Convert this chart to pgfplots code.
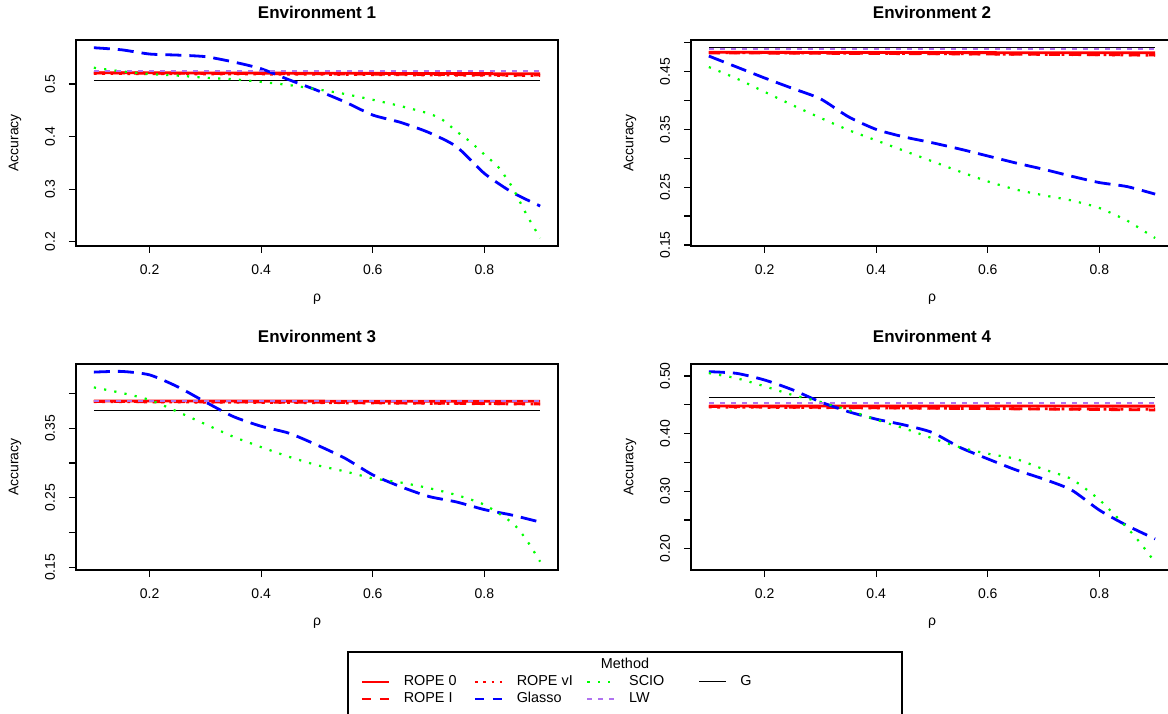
\documentclass[border=0pt]{standalone}
\usepackage{fontspec}
\setmainfont{Liberation Sans}
\usepackage{pgfplots}
\pgfplotsset{compat=1.18}

\definecolor{ropeRed}{HTML}{FF0000}
\definecolor{glBlue}{HTML}{0000FF}
\definecolor{scGreen}{HTML}{00FF00}
\definecolor{lwPurple}{HTML}{B072F0}

% line styles of the seven methods
\tikzset{
  rope0/.style={ropeRed, line width=1.4pt},
  ropeI/.style={ropeRed, line width=1.4pt, dash pattern=on 5.5pt off 4.5pt},
  ropevI/.style={ropeRed, line width=1.4pt, dash pattern=on 1.4pt off 2.8pt},
  glasso/.style={glBlue, line width=1.4pt, dash pattern=on 8pt off 4pt},
  scio/.style={scGreen, line width=1.1pt, dash pattern=on 1.1pt off 4.1pt},
  lw/.style={lwPurple, line width=1pt, dash pattern=on 2.5pt off 3pt},
  gline/.style={black, line width=0.5pt},
}

\pgfplotsset{
  envpanel/.style={
    scale only axis, width=241pt, height=103pt,
    anchor=south west,
    xmin=0.068, xmax=0.932,
    xtick={0.2,0.4,0.6,0.8},
    xticklabels={0.2,0.4,0.6,0.8},
    tick align=outside, tick pos=left,
    major tick length=3.5pt,
    axis line style={line width=0.6pt},
    every tick/.style={black, line width=0.6pt},
    tick label style={font=\fontsize{7}{8}\selectfont},
    xticklabel style={yshift=-2.5pt},
    yticklabel style={rotate=90, anchor=south, xshift=0pt},
    yticklabel shift=3.5pt,
    xlabel={ρ}, ylabel={Accuracy},
    every axis x label/.style={at={(axis description cs:0.5,-0.2573)}, anchor=center,
      font=\fontsize{7}{8}\selectfont},
    every axis y label/.style={at={(axis description cs:-0.1266,0.5)}, rotate=90,
      anchor=center, font=\fontsize{7}{8}\selectfont},
    every axis title/.style={at={(axis description cs:0.5,1.136)}, anchor=center,
      font=\bfseries\fontsize{8.5}{10}\selectfont},
  },
}

\begin{document}
\begin{tikzpicture}

% ---------- Environment 1 ----------
\begin{axis}[envpanel, at={(38pt,233.5pt)}, title={Environment 1},
  ymin=0.192, ymax=0.5837,
  ytick={0.2,0.3,0.4,0.5}, yticklabels={0.2,0.3,0.4,0.5}]
\addplot[gline] coordinates {(0.1,0.5063) (0.9,0.5063)};
\addplot[rope0] coordinates {(0.1,0.5215) (0.5,0.5205) (0.9,0.5195)};
\addplot[ropeI] coordinates {(0.1,0.5210) (0.5,0.5195) (0.9,0.5170)};
\addplot[ropevI] coordinates {(0.1,0.5200) (0.5,0.5185) (0.9,0.5160)};
\addplot[glasso, smooth, tension=0.4] coordinates {
  (0.10,0.569) (0.15,0.565) (0.20,0.557) (0.25,0.555) (0.30,0.552) (0.35,0.542)
  (0.40,0.529) (0.45,0.508) (0.50,0.488) (0.55,0.466) (0.60,0.441) (0.65,0.427)
  (0.70,0.408) (0.75,0.381) (0.80,0.330) (0.85,0.294) (0.90,0.268)};
\addplot[scio, smooth, tension=0.4] coordinates {
  (0.10,0.531) (0.15,0.524) (0.20,0.519) (0.25,0.516) (0.30,0.512) (0.35,0.509)
  (0.40,0.504) (0.45,0.498) (0.50,0.490) (0.55,0.481) (0.60,0.470) (0.65,0.458)
  (0.70,0.444) (0.725,0.432) (0.75,0.410) (0.775,0.390) (0.80,0.366) (0.825,0.342)
  (0.85,0.304) (0.875,0.253) (0.90,0.207)};
\addplot[lw] coordinates {(0.1,0.5241) (0.9,0.5241)};
\end{axis}

% ---------- Environment 2 ----------
\begin{axis}[envpanel, at={(345.5pt,233.5pt)}, title={Environment 2},
  ymin=0.1482, ymax=0.5048,
  ytick={0.15,0.20,0.25,0.30,0.35,0.40,0.45,0.50},
  yticklabels={0.15,,0.25,,0.35,,0.45,}]
\addplot[gline] coordinates {(0.1,0.4922) (0.9,0.4922)};
\addplot[rope0] coordinates {(0.1,0.4835) (0.5,0.4830) (0.9,0.4826)};
\addplot[ropeI] coordinates {(0.1,0.4825) (0.5,0.4810) (0.9,0.4788)};
\addplot[ropevI] coordinates {(0.1,0.4830) (0.5,0.4812) (0.9,0.4785)};
\addplot[glasso, smooth, tension=0.4] coordinates {
  (0.10,0.477) (0.15,0.458) (0.20,0.439) (0.25,0.421) (0.30,0.403) (0.35,0.372)
  (0.40,0.350) (0.45,0.337) (0.50,0.327) (0.55,0.316) (0.60,0.304) (0.65,0.292)
  (0.70,0.281) (0.75,0.269) (0.80,0.258) (0.85,0.251) (0.90,0.238)};
\addplot[scio, smooth, tension=0.4] coordinates {
  (0.10,0.458) (0.15,0.438) (0.20,0.415) (0.25,0.392) (0.30,0.370) (0.35,0.349)
  (0.40,0.331) (0.45,0.313) (0.50,0.295) (0.55,0.277) (0.60,0.260) (0.65,0.246)
  (0.70,0.236) (0.75,0.227) (0.80,0.214) (0.85,0.192) (0.875,0.177) (0.90,0.162)};
\addplot[lw] coordinates {(0.1,0.4896) (0.9,0.4896)};
\end{axis}

% ---------- Environment 3 ----------
\begin{axis}[envpanel, at={(38pt,71.5pt)}, title={Environment 3},
  ymin=0.146, ymax=0.4427,
  ytick={0.15,0.20,0.25,0.30,0.35,0.40},
  yticklabels={0.15,,0.25,,0.35,}]
\addplot[gline] coordinates {(0.1,0.3754) (0.9,0.3754)};
\addplot[rope0] coordinates {(0.1,0.3894) (0.5,0.3892) (0.9,0.3890)};
\addplot[ropeI] coordinates {(0.1,0.3888) (0.5,0.3875) (0.9,0.3852)};
\addplot[ropevI] coordinates {(0.1,0.3885) (0.5,0.3870) (0.9,0.3850)};
\addplot[glasso, smooth, tension=0.4] coordinates {
  (0.10,0.431) (0.15,0.432) (0.20,0.427) (0.25,0.410) (0.30,0.388) (0.35,0.367)
  (0.40,0.353) (0.45,0.343) (0.50,0.326) (0.55,0.307) (0.60,0.283) (0.65,0.266)
  (0.70,0.252) (0.75,0.244) (0.80,0.233) (0.85,0.225) (0.90,0.215)};
\addplot[scio, smooth, tension=0.4] coordinates {
  (0.10,0.409) (0.15,0.401) (0.20,0.391) (0.25,0.374) (0.30,0.356) (0.35,0.338)
  (0.40,0.323) (0.45,0.309) (0.50,0.297) (0.55,0.288) (0.60,0.278) (0.65,0.272)
  (0.70,0.264) (0.75,0.254) (0.80,0.240) (0.85,0.214) (0.875,0.190) (0.90,0.158)};
\addplot[lw] coordinates {(0.1,0.3896) (0.9,0.3896)};
\end{axis}

% ---------- Environment 4 ----------
\begin{axis}[envpanel, at={(345.5pt,71.5pt)}, title={Environment 4},
  ymin=0.163, ymax=0.5208,
  ytick={0.20,0.25,0.30,0.35,0.40,0.45,0.50},
  yticklabels={0.20,,0.30,,0.40,,0.50}]
\addplot[gline] coordinates {(0.1,0.4624) (0.9,0.4624)};
\addplot[rope0] coordinates {(0.1,0.4480) (0.5,0.4478) (0.9,0.4476)};
\addplot[ropeI] coordinates {(0.1,0.4470) (0.5,0.4440) (0.9,0.4410)};
\addplot[ropevI] coordinates {(0.1,0.4460) (0.5,0.4440) (0.9,0.4420)};
\addplot[glasso, smooth, tension=0.4] coordinates {
  (0.10,0.5075) (0.15,0.5045) (0.20,0.493) (0.25,0.476) (0.30,0.455) (0.35,0.438)
  (0.40,0.425) (0.45,0.415) (0.50,0.402) (0.55,0.376) (0.60,0.356) (0.65,0.337)
  (0.70,0.321) (0.75,0.302) (0.80,0.267) (0.85,0.240) (0.90,0.217)};
\addplot[scio, smooth, tension=0.4] coordinates {
  (0.10,0.505) (0.15,0.496) (0.20,0.482) (0.25,0.467) (0.30,0.455) (0.35,0.441)
  (0.40,0.424) (0.45,0.409) (0.50,0.392) (0.55,0.376) (0.60,0.365) (0.65,0.356)
  (0.70,0.338) (0.75,0.321) (0.80,0.285) (0.85,0.236) (0.875,0.208) (0.90,0.176)};
\addplot[lw] coordinates {(0.1,0.4537) (0.9,0.4537)};
\end{axis}

% ---------- shared legend ----------
\draw[line width=0.6pt] (174pt,-5pt) -- (174pt,30.5pt) -- (451pt,30.5pt) -- (451pt,-5pt);
\node[font=\fontsize{7.2}{8.6}\selectfont] at (312.5pt,25pt) {Method};
\begin{axis}[at={(0pt,0pt)}, anchor=south west, scale only axis,
  width=584pt, height=356.5pt, hide axis,
  xmin=0, xmax=1, ymin=0, ymax=1,
  legend columns=4,
  legend image code/.code={\draw[#1] (0pt,0pt) -- (13.5pt,0pt);},
  legend style={at={(axis description cs:0.3082,0.0547)}, anchor=north west,
    draw=none, fill=none, inner sep=0pt, row sep=0.9pt,
    font=\fontsize{7.2}{8.6}\selectfont,
    nodes={inner sep=0.3pt, text height=5.4pt, text depth=1.6pt, anchor=west},
    /tikz/every odd column/.append style={column sep=6.5pt},
    /tikz/every even column/.append style={column sep=6.5pt}},
  legend cell align=left]
\addlegendimage{rope0}\addlegendentry{\makebox[28pt][l]{ROPE 0}}
\addlegendimage{ropevI}\addlegendentry{\makebox[28pt][l]{ROPE vI}}
\addlegendimage{scio}\addlegendentry{\makebox[28pt][l]{SCIO}}
\addlegendimage{gline}\addlegendentry{\makebox[28pt][l]{G}}
\addlegendimage{ropeI, dash pattern=on 4.5pt off 4.5pt}\addlegendentry{\makebox[28pt][l]{ROPE I}}
\addlegendimage{glasso, dash pattern=on 4.5pt off 4.5pt}\addlegendentry{\makebox[28pt][l]{Glasso}}
\addlegendimage{lw}\addlegendentry{\makebox[28pt][l]{LW}}
\end{axis}

\pgfresetboundingbox
\useasboundingbox (0pt,0pt) rectangle (584pt,356.5pt);
\end{tikzpicture}
\end{document}
